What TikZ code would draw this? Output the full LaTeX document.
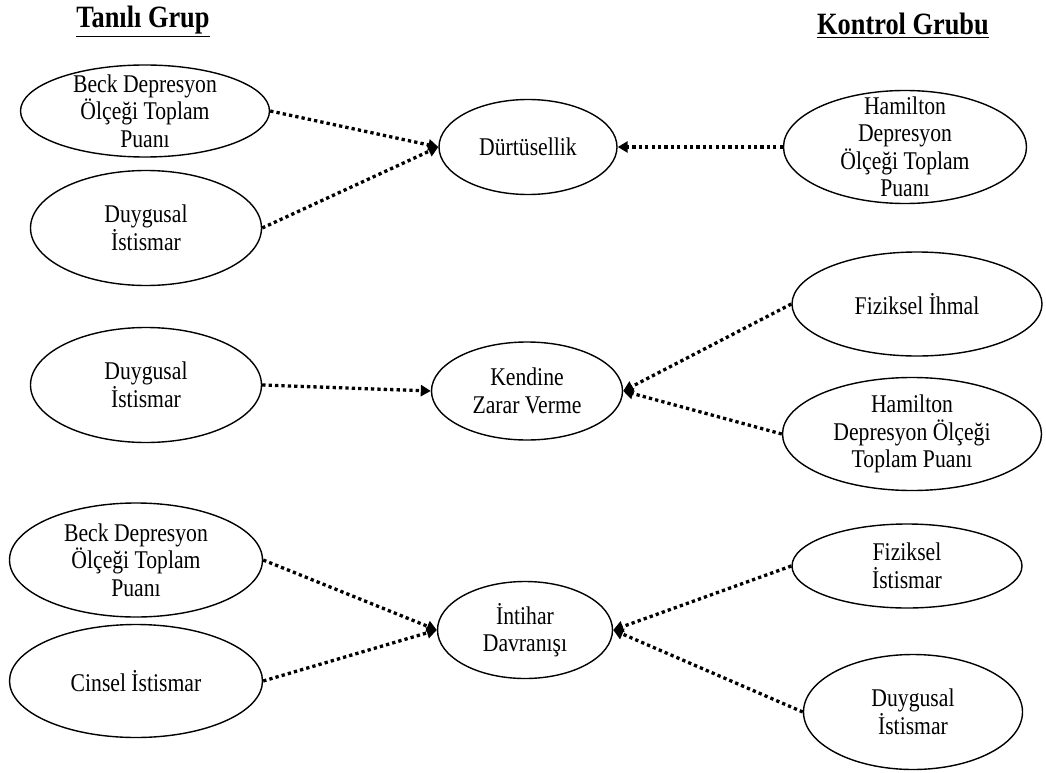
\documentclass[tikz,border=0pt]{standalone}
\usepackage{fontspec}
\setmainfont{Liberation Serif}[FakeStretch=0.85]
\usetikzlibrary{shapes.geometric,arrows.meta}
\begin{document}
\begin{tikzpicture}[x=1pt,y=-1pt,
  oval/.style 2 args={draw,ellipse,line width=1.4pt,inner sep=0pt,minimum width=#1pt,minimum height=#2pt},
  txt/.style={align=center,inner sep=0pt,font=\fontsize{25.5}{27.5}\selectfont},
  link/.style={line width=3.3pt,dash pattern=on 3.3pt off 3.1pt,-{Triangle[length=10pt,width=11pt]}},
  title/.style={font=\fontsize{31}{33}\selectfont\bfseries,anchor=base,inner sep=0pt}]
\useasboundingbox (0,0) rectangle (1046,773);
\fill[white] (0,0) rectangle (1046,773);
% titles
\node[title] (t1) at (143,28) {\underline{Tanılı Grup}};
\node[title] (t2) at (903,35) {\underline{Kontrol Grubu}};
% left
\node[oval={249}{92}] (L1) at (145,111) {};
\node[txt] (L1t) at (L1) {Beck Depresyon\\Ölçeği Toplam\\Puanı};
\node[oval={231}{115}] (L2) at (146,228) {};
\node[txt] (L2t) at (L2) {Duygusal\\İstismar};
\node[oval={231}{115}] (L3) at (146,385) {};
\node[txt] (L3t) at (L3) {Duygusal\\İstismar};
\node[oval={253}{114}] (L4) at (136,560) {};
\node[txt] (L4t) at (L4) {Beck Depresyon\\Ölçeği Toplam\\Puanı};
\node[oval={253}{113}] (L5) at (136,681) {};
\node[txt] (L5t) at (L5) {Cinsel İstismar};
% centre
\node[oval={178}{95}] (C1) at (528,147) {};
\node[txt] (C1t) at (C1) {Dürtüsellik};
\node[oval={191}{98}] (C2) at (527,391) {};
\node[txt] (C2t) at (C2) {Kendine\\Zarar Verme};
\node[oval={175}{97}] (C3) at (525,630) {};
\node[txt] (C3t) at (C3) {İntihar\\Davranışı};
% right
\node[oval={243}{113}] (R1) at (905,147) {};
\node[txt] (R1t) at (R1) {Hamilton\\Depresyon\\Ölçeği Toplam\\Puanı};
\node[oval={250}{104}] (R2) at (917,304) {};
\node[txt] (R2t) at (R2) {Fiziksel İhmal};
\node[oval={259}{113}] (R3) at (912,434) {};
\node[txt] (R3t) at (R3) {Hamilton\\Depresyon Ölçeği\\Toplam Puanı};
\node[oval={230}{84}] (R4) at (907,566) {};
\node[txt] (R4t) at (R4) {Fiziksel\\İstismar};
\node[oval={219}{115}] (R5) at (913,712) {};
\node[txt] (R5t) at (R5) {Duygusal\\İstismar};
% connectors
\draw[link] (L1.east) -- (C1.west);
\draw[link] (L2.east) -- (C1.west);
\draw[link] (R1.west) -- (C1.east);
\draw[link] (L3.east) -- (C2.west);
\draw[link] (R2.west) -- (C2.east);
\draw[link] (R3.west) -- (C2.east);
\draw[link] (L4.east) -- (C3.west);
\draw[link] (L5.east) -- (C3.west);
\draw[link] (R4.west) -- (C3.east);
\draw[link] (R5.west) -- (C3.east);
\end{tikzpicture}
\end{document}
